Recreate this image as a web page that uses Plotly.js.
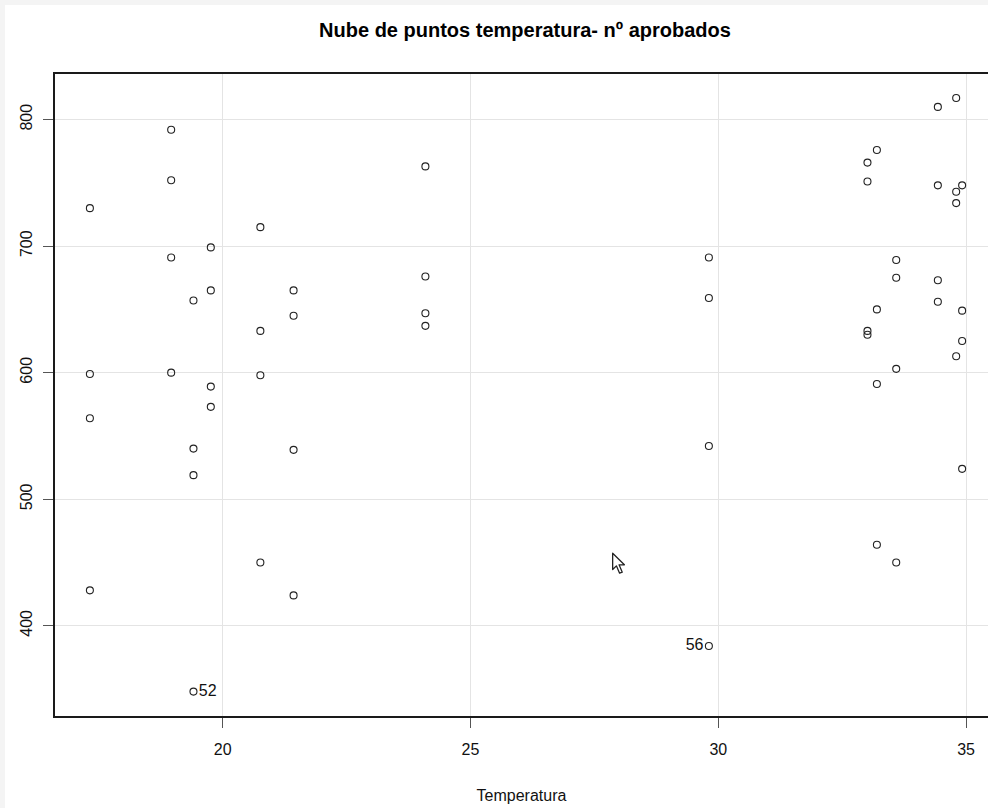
<!DOCTYPE html>
<html>
<head>
<meta charset="utf-8">
<script src="https://cdn.plot.ly/plotly-3.0.1.min.js"></script>
<style>
  html, body { margin: 0; padding: 0; background: #f4f4f4; overflow: hidden; }
  #chart { position: absolute; left: 5px; top: 5px; width: 983px; height: 803px; background: #fff; }
</style>
</head>
<body>
<div id="chart"></div>
<script>
// Temperatura (x) y nº aprobados (y) (orden de observación)
const temperatura = [
  17.32, 17.32, 17.32, 17.32,
  18.96, 18.96, 18.96, 18.96,
  19.41, 19.41, 19.41,
  19.76, 19.76, 19.76, 19.76,
  20.76, 20.76, 20.76, 20.76,
  21.43, 21.43, 21.43, 21.43,
  24.09, 24.09, 24.09, 24.09,
  29.81, 29.81, 29.81,
  33.01, 33.01, 33.01, 33.01,
  33.20, 33.20, 33.20, 33.20,
  33.59, 33.59, 33.59, 33.59,
  34.43, 34.43, 34.43, 34.43,
  34.80, 34.80, 34.80, 34.80,
  34.92, 19.41, 34.92, 34.92,
  34.92, 29.81
];
const aprobados = [
  730, 599, 564, 428,
  792, 752, 691, 600,
  657, 540, 519,
  699, 665, 589, 573,
  715, 633, 598, 450,
  665, 645, 539, 424,
  763, 676, 647, 637,
  691, 659, 542,
  766, 751, 633, 630,
  776, 650, 591, 464,
  689, 675, 603, 450,
  810, 748, 673, 656,
  817, 743, 734, 613,
  748, 348, 649, 625,
  524, 384
];
// Puntos identificados (número de observación)
const etiquetaNum = [52, 56];
const etiquetaPos = ['middle right', 'middle left'];

const xTicks = [20, 25, 30, 35];
const yTicks = [400, 500, 600, 700, 800];

const texto = aprobados.map(() => '');
const posiciones = aprobados.map(() => 'middle right');
etiquetaNum.forEach((n, i) => { texto[n - 1] = String(n); posiciones[n - 1] = etiquetaPos[i]; });

const trace = {
  type: 'scatter',
  mode: 'markers+text',
  x: temperatura,
  y: aprobados,
  text: texto,
  textposition: posiciones,
  textfont: { family: 'Liberation Sans, Arial, sans-serif', size: 16, color: '#111' },
  marker: { symbol: 'circle-open', size: 7, color: '#222', line: { width: 1.1, color: '#222' } },
  hoverinfo: 'x+y',
  cliponaxis: false,
  showlegend: false
};

const font = { family: 'Liberation Sans, Arial, sans-serif', size: 16, color: '#111' };

// mouse pointer visible in the screenshot
const cursorSvg = 'data:image/svg+xml;utf8,' + encodeURIComponent(
  '<svg xmlns="http://www.w3.org/2000/svg" width="14" height="22" viewBox="0 0 14 22">' +
  '<path d="M1.5,1.5 L1.5,17 L5,13.5 L8,20.5 L10.5,19.5 L7.5,12.5 L12.5,12.5 Z" fill="#fff" stroke="#222" stroke-width="1.2" stroke-linejoin="round"/></svg>');

const layout = {
  width: 983,
  height: 803,
  margin: { l: 50, r: 0, t: 69, b: 92, pad: 0 },
  paper_bgcolor: '#ffffff',
  plot_bgcolor: '#ffffff',
  font: font,
  title: {
    text: '<b>Nube de puntos temperatura- nº aprobados</b>',
    font: { family: 'Liberation Sans, Arial, sans-serif', size: 20, color: '#000' },
    xref: 'container', yref: 'container',
    x: 0.529, xanchor: 'center',
    y: 0.969, yanchor: 'middle'
  },
  xaxis: {
    range: [16.616, 35.442],
    tickvals: xTicks,
    ticktext: xTicks.map(String),
    ticks: 'outside', ticklen: 10, tickwidth: 1, tickcolor: '#555',
    ticklabelstandoff: 8,
    showline: true, linecolor: '#1a1a1a', linewidth: 2, mirror: true,
    showgrid: true, gridcolor: '#e4e4e4', gridwidth: 1,
    zeroline: false,
    tickfont: font,
    title: { text: 'Temperatura', font: font, standoff: 33 },
    automargin: false
  },
  yaxis: {
    range: [328.7, 836],
    tickvals: yTicks,
    ticktext: yTicks.map(String),
    tickangle: -90,
    ticks: 'outside', ticklen: 10, tickwidth: 1, tickcolor: '#555',
    ticklabelstandoff: 5,
    showline: true, linecolor: '#1a1a1a', linewidth: 2, mirror: false,
    showgrid: true, gridcolor: '#e4e4e4', gridwidth: 1,
    zeroline: false,
    tickfont: font,
    automargin: false
  },
  images: [{
    source: cursorSvg,
    xref: 'paper', yref: 'paper',
    x: 0.596, y: 0.256, sizex: 0.016, sizey: 0.036,
    xanchor: 'left', yanchor: 'top', sizing: 'stretch', layer: 'above'
  }]
};

Plotly.newPlot('chart', [trace], layout, { displayModeBar: false, staticPlot: true });
</script>
</body>
</html>
